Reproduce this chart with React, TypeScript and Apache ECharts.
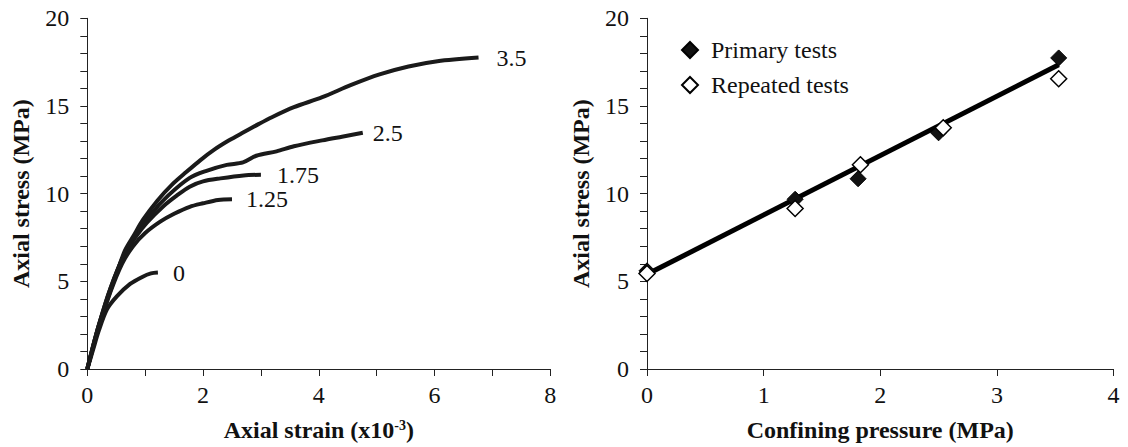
import React, { useEffect, useRef } from "react";
import * as echarts from "echarts";

// Left chart: stress-strain curves by confining pressure (MPa)
const curveNames = ["0", "1.25", "1.75", "2.5", "3.5"];
const curve0 = [[0, 0], [0.1, 1.1], [0.2, 2.2], [0.34, 3.4], [0.51, 4.14], [0.74, 4.85], [0.95, 5.25], [1.1, 5.45], [1.22, 5.5]];
const curve125 = [[0, 0], [0.2, 2.4], [0.4, 4.4], [0.6, 6.0], [0.79, 7.0], [1.0, 7.75], [1.26, 8.4], [1.5, 8.85], [1.77, 9.25], [2.0, 9.45], [2.26, 9.64], [2.5, 9.68]];
const curve175 = [[0, 0], [0.2, 2.5], [0.4, 4.6], [0.65, 6.6], [0.85, 7.6], [1.03, 8.35], [1.31, 9.27], [1.55, 9.9], [1.77, 10.4], [2.0, 10.7], [2.3, 10.87], [2.7, 11.04], [3.0, 11.08]];
const curve25 = [[0, 0], [0.2, 2.5], [0.4, 4.6], [0.65, 6.6], [0.85, 7.7], [1.09, 8.8], [1.4, 9.9], [1.77, 10.9], [2.06, 11.3], [2.41, 11.64], [2.69, 11.78], [2.92, 12.16], [3.27, 12.41], [3.57, 12.7], [4.06, 13.04], [4.4, 13.25], [4.76, 13.47]];
const curve35 = [[0, 0], [0.155, 2.0], [0.34, 3.9], [0.5, 5.4], [0.65, 6.75], [0.8, 7.6], [0.96, 8.5], [1.21, 9.6], [1.46, 10.5], [1.71, 11.23], [1.95, 11.9], [2.2, 12.52], [2.45, 13.04], [2.7, 13.5], [2.95, 13.95], [3.19, 14.36], [3.57, 14.93], [4.06, 15.5], [4.56, 16.2], [5.05, 16.8], [5.55, 17.25], [6.05, 17.55], [6.76, 17.76]];
const curves = [curve0, curve125, curve175, curve25, curve35];
const labelGaps = [15, 14, 16, 10, 18];

// Right chart: peak stress vs confining pressure
const primaryX = [0, 1.27, 1.81, 2.5, 3.53];
const primaryY = [5.6, 9.68, 10.85, 13.47, 17.74];
const repeatedX = [0, 1.27, 1.83, 2.54, 3.53];
const repeatedY = [5.45, 9.15, 11.65, 13.76, 16.55];
const fitX = [0, 3.53];
const fitY = [5.4, 17.35];

const FONT = "'Liberation Serif', 'Times New Roman', serif";
const INK = "#111";

function axisCommon(extra: any) {
  return {
    type: "value",
    splitLine: { show: false },
    axisLine: { show: true, lineStyle: { color: "#222", width: 1 } },
    axisTick: { show: true, inside: false, length: 7, lineStyle: { color: "#222" } },
    axisLabel: { color: INK, fontFamily: FONT, fontSize: 24 },
    nameLocation: "middle",
    nameTextStyle: { color: INK, fontFamily: FONT, fontSize: 24, fontWeight: "bold" },
    ...extra,
  };
}

export default function App() {
  const ref = useRef<HTMLDivElement>(null);
  useEffect(() => {
    if (!ref.current) return;
    const chart = echarts.init(ref.current, undefined, { renderer: "svg" });
    const leftSeries = curves.map((c, i) => ({
      type: "line",
      name: curveNames[i],
      xAxisIndex: 0,
      yAxisIndex: 0,
      data: c,
      showSymbol: false,
      smooth: 0.3,
      lineStyle: { color: "#1a1a1a", width: 4 },
      endLabel: {
        show: true,
        formatter: curveNames[i],
        distance: labelGaps[i],
        color: INK,
        fontFamily: FONT,
        fontSize: 24,
      },
    }));
    chart.setOption({
      animation: false,
      grid: [
        { left: 87.3, right: 577.7, top: 18.3, bottom: 77.7 },
        { left: 647, right: 14.5, top: 18.3, bottom: 77.7 },
      ],
      xAxis: [
        axisCommon({
          gridIndex: 0, min: 0, max: 8, interval: 2,
          minorTick: { show: true, splitNumber: 2, length: 7, lineStyle: { color: "#222" } },
          name: "Axial strain (x10{sup|-3})",
          nameGap: 49,
          nameTextStyle: {
            color: INK, fontFamily: FONT, fontSize: 24, fontWeight: "bold",
            rich: { sup: { fontFamily: FONT, fontSize: 14, fontWeight: "bold", verticalAlign: "top", padding: [0, 0, 10, 0] } },
          },
          axisLabel: { color: INK, fontFamily: FONT, fontSize: 24, margin: 14 },
        }),
        axisCommon({
          gridIndex: 1, min: 0, max: 4, interval: 1,
          name: "Confining pressure (MPa)",
          nameGap: 49,
          axisLabel: { color: INK, fontFamily: FONT, fontSize: 24, margin: 14 },
        }),
      ],
      yAxis: [
        axisCommon({
          gridIndex: 0, min: 0, max: 20, interval: 5,
          minorTick: { show: true, splitNumber: 5, length: 7, lineStyle: { color: "#222" } },
          name: "Axial stress (MPa)",
          nameGap: 54,
          axisLabel: { color: INK, fontFamily: FONT, fontSize: 24, margin: 18 },
        }),
        axisCommon({
          gridIndex: 1, min: 0, max: 20, interval: 5,
          minorTick: { show: true, splitNumber: 5, length: 7, lineStyle: { color: "#222" } },
          name: "Axial stress (MPa)",
          nameGap: 54,
          axisLabel: { color: INK, fontFamily: FONT, fontSize: 24, margin: 18 },
        }),
      ],
      legend: {
        data: ["Primary tests", "Repeated tests"],
        orient: "vertical",
        left: 676,
        top: 33,
        itemWidth: 16,
        itemHeight: 16,
        itemGap: 11,
        textStyle: { color: INK, fontFamily: FONT, fontSize: 24, lineHeight: 24, padding: [0, 0, 0, 8] },
      },
      series: [
        ...leftSeries,
        {
          type: "line",
          name: "Fit",
          xAxisIndex: 1,
          yAxisIndex: 1,
          data: fitX.map((x, i) => [x, fitY[i]]),
          showSymbol: false,
          lineStyle: { color: "#000", width: 5 },
          z: 2,
        },
        {
          type: "scatter",
          name: "Primary tests",
          xAxisIndex: 1,
          yAxisIndex: 1,
          data: primaryX.map((x, i) => [x, primaryY[i]]),
          symbol: "diamond",
          symbolSize: 16,
          itemStyle: { color: "#111", borderColor: "#000", borderWidth: 1, opacity: 1 },
          z: 3,
        },
        {
          type: "scatter",
          name: "Repeated tests",
          xAxisIndex: 1,
          yAxisIndex: 1,
          data: repeatedX.map((x, i) => [x, repeatedY[i]]),
          symbol: "diamond",
          symbolSize: 16,
          itemStyle: { color: "#fff", borderColor: "#000", borderWidth: 1.5, opacity: 1 },
          z: 4,
        },
      ],
    });
    return () => chart.dispose();
  }, []);
  return (
    <div
      ref={ref}
      style={{ position: "absolute", left: 0, top: 0, width: 1128, height: 447, background: "#fff" }}
    />
  );
}
